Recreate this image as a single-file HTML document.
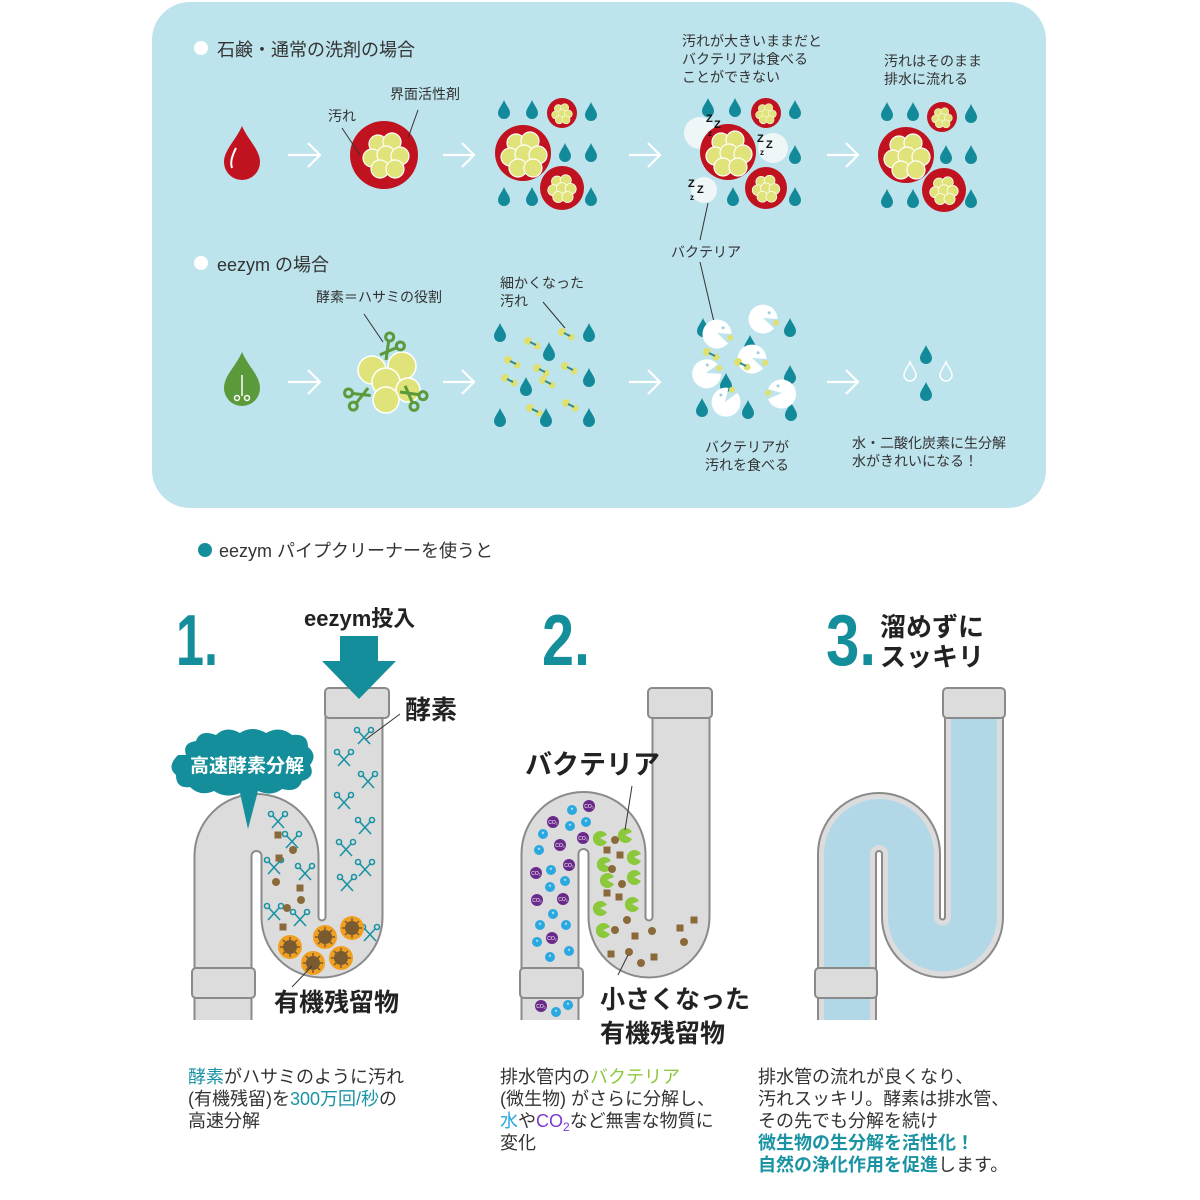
<!DOCTYPE html>
<html><head><meta charset="utf-8">
<style>
html,body{margin:0;padding:0;background:#fff;}
svg{display:block;}
text{font-family:"Liberation Sans","Noto Sans CJK JP",sans-serif;}
.s{font-size:14px;fill:#333;}
.h{font-size:18px;fill:#333;}
.b{font-weight:bold;fill:#222;}
.num{font-family:"Liberation Sans Narrow","Liberation Sans",sans-serif;font-weight:bold;fill:#148e9b;}
.body{font-size:18px;fill:#333;}
.tl{fill:#1a93a3;}
</style></head><body>
<svg width="1200" height="1200" viewBox="0 0 1200 1200" xmlns="http://www.w3.org/2000/svg">
<defs>
  <path id="drop" d="M0,-10 C2,-5 6,-1 6,3 A6,6 0 0 1 -6,3 C-6,-1 -2,-5 0,-10Z" fill="#138a99"/>
  <path id="wdrop" d="M0,-10 C2,-5 6,-1 6,3 A6,6 0 0 1 -6,3 C-6,-1 -2,-5 0,-10Z" fill="none" stroke="#fff" stroke-width="1.5"/>
  <g id="clu">
    <circle cx="-8" cy="-12" r="9" fill="#dfe37a" stroke="#fff" stroke-width="1.2"/>
    <circle cx="6" cy="-14" r="9" fill="#dfe37a" stroke="#fff" stroke-width="1.2"/>
    <circle cx="-14" cy="2" r="9" fill="#dfe37a" stroke="#fff" stroke-width="1.2"/>
    <circle cx="0" cy="-1" r="9" fill="#dfe37a" stroke="#fff" stroke-width="1.2"/>
    <circle cx="14" cy="0" r="9" fill="#dfe37a" stroke="#fff" stroke-width="1.2"/>
    <circle cx="-6" cy="13" r="9" fill="#dfe37a" stroke="#fff" stroke-width="1.2"/>
    <circle cx="9" cy="13" r="9" fill="#dfe37a" stroke="#fff" stroke-width="1.2"/>
  </g>
  <g id="pac">
    <path d="M0,0 L14,-4 A14.5,14.5 0 1 0 14,6 Z" fill="#fff"/>
    <circle cx="4" cy="-7" r="1.5" fill="#9ccfdc"/>
    <circle cx="14" cy="0" r="3" fill="#e0e070"/>
  </g>
  <g id="frag">
    <circle cx="0" cy="0" r="4" fill="#e0e070"/><circle cx="9" cy="5" r="3.5" fill="#e0e070"/>
    <line x1="2" y1="1" x2="8" y2="4" stroke="#2a8a9a" stroke-width="2"/>
  </g>
  <g id="sc" stroke="#1a93a3" stroke-width="1.6" fill="none">
    <line x1="-6" y1="6" x2="5" y2="-6"/><line x1="6" y1="6" x2="-5" y2="-6"/>
    <circle cx="-7" cy="-8" r="2.5"/><circle cx="7" cy="-8" r="2.5"/>
  </g>
  <g id="gsc" stroke="#5a9a3a" stroke-width="3" fill="none">
    <line x1="0" y1="0" x2="16" y2="-10"/><line x1="0" y1="-8" x2="16" y2="0"/>
    <circle cx="20" cy="-12" r="4"/><circle cx="20" cy="2" r="4"/>
  </g>
  <g id="co2"><circle r="6" fill="#6a2a8a"/><text x="0" y="2" font-size="5" fill="#fff" text-anchor="middle">CO₂</text></g>
  <g id="wat"><circle r="5" fill="#2aa8e0"/><text x="0" y="2.5" font-size="7" fill="#fff" text-anchor="middle">*</text></g>
  <g id="gb"><path d="M0,0 L7,-3 A7.5,7.5 0 1 0 7,4 Z" fill="#8cc83c"/></g>
  <rect id="bs" x="-3.5" y="-3.5" width="7" height="7" fill="#8a6a3a"/>
  <circle id="bc" r="4" fill="#8a6a3a"/>
  <g id="org"><circle r="12" fill="#f0a020"/><circle r="7" fill="#7a5a30"/>
    <g stroke="#7a5a30" stroke-width="1.5"><line x1="-10" y1="0" x2="10" y2="0"/><line x1="0" y1="-10" x2="0" y2="10"/><line x1="-7" y1="-7" x2="7" y2="7"/><line x1="-7" y1="7" x2="7" y2="-7"/></g></g>
  <linearGradient id="bl" x1="0" y1="0" x2="0" y2="1"><stop offset="0" stop-color="#a8cbe8" stop-opacity="0"/><stop offset="1" stop-color="#6fa5de"/></linearGradient>
</defs>

<rect x="152" y="2" width="894" height="506" rx="38" fill="#bde3ec"/>

<circle cx="201" cy="48" r="7" fill="#fff"/>
<text x="217" y="56" class="h">石鹸・通常の洗剤の場合</text>
<path d="M242,126 C248,140 260,150 260,162 A18,18 0 0 1 224,162 C224,150 236,140 242,126Z" fill="#c1121f"/>
<path d="M236,148 C232,156 230,162 232,168" stroke="#fff" stroke-width="2" fill="none"/>
<g stroke="#fff" stroke-width="2.2" fill="none">
 <path d="M288,155 H320 M308,143 L320,155 L308,167"/>
 <path d="M443,155 H474 M462,143 L474,155 L462,167"/>
 <path d="M629,155 H660 M648,143 L660,155 L648,167"/>
 <path d="M827,155 H858 M846,143 L858,155 L846,167"/>
 <path d="M288,382 H320 M308,370 L320,382 L308,394"/>
 <path d="M443,382 H474 M462,370 L474,382 L462,394"/>
 <path d="M629,382 H660 M648,370 L660,382 L648,394"/>
 <path d="M827,382 H858 M846,370 L858,382 L846,394"/>
</g>
<circle cx="384" cy="155" r="34" fill="#c1121f"/><use href="#clu" x="386" y="156"/>
<text x="390" y="99" class="s">界面活性剤</text>
<text x="328" y="121" class="s">汚れ</text>
<line x1="342" y1="128" x2="360" y2="155" stroke="#333"/>
<line x1="418" y1="110" x2="408" y2="138" stroke="#333"/>

<g>
<circle cx="523" cy="153" r="28" fill="#c1121f"/><use href="#clu" x="524" y="155"/>
<circle cx="562" cy="113" r="15" fill="#c1121f"/><use href="#clu" transform="translate(562,114) scale(0.45)"/>
<circle cx="562" cy="188" r="22" fill="#c1121f"/><use href="#clu" transform="translate(562,189) scale(0.62)"/>
<use href="#drop" x="504" y="110"/><use href="#drop" x="532" y="110"/><use href="#drop" x="591" y="112"/>
<use href="#drop" x="565" y="153"/><use href="#drop" x="591" y="153"/>
<use href="#drop" x="504" y="197"/><use href="#drop" x="532" y="197"/><use href="#drop" x="591" y="197"/>
</g>
<g>
<text x="682" y="46" class="s">汚れが大きいままだと</text>
<text x="682" y="64" class="s">バクテリアは食べる</text>
<text x="682" y="82" class="s">ことができない</text>
<use href="#drop" x="708" y="108"/><use href="#drop" x="735" y="108"/><use href="#drop" x="795" y="110"/>
<use href="#drop" x="795" y="155"/><use href="#drop" x="733" y="197"/><use href="#drop" x="795" y="197"/>
<circle cx="700" cy="133" r="16" fill="#eef6f8"/>
<circle cx="773" cy="148" r="15" fill="#eef6f8"/>
<circle cx="704" cy="190" r="13" fill="#eef6f8"/>
<circle cx="728" cy="152" r="28" fill="#c1121f"/><use href="#clu" x="729" y="154"/>
<circle cx="766" cy="113" r="15" fill="#c1121f"/><use href="#clu" transform="translate(766,114) scale(0.45)"/>
<circle cx="766" cy="188" r="21" fill="#c1121f"/><use href="#clu" transform="translate(766,189) scale(0.6)"/>
<g font-weight="bold" fill="#111" font-size="11">
<text x="706" y="122">Z</text><text x="714" y="128">Z</text><text x="708" y="136" font-size="8">z</text>
<text x="757" y="142">Z</text><text x="766" y="148">Z</text><text x="760" y="155" font-size="8">z</text>
<text x="688" y="187">Z</text><text x="697" y="193">Z</text><text x="690" y="200" font-size="8">z</text>
</g>
<line x1="708" y1="203" x2="700" y2="240" stroke="#333"/>
<text x="671" y="257" class="s">バクテリア</text>
<line x1="700" y1="262" x2="714" y2="322" stroke="#333"/>
</g>
<g>
<text x="884" y="66" class="s">汚れはそのまま</text>
<text x="884" y="84" class="s">排水に流れる</text>
<circle cx="906" cy="155" r="28" fill="#c1121f"/><use href="#clu" x="907" y="157"/>
<circle cx="942" cy="117" r="15" fill="#c1121f"/><use href="#clu" transform="translate(942,118) scale(0.45)"/>
<circle cx="944" cy="190" r="22" fill="#c1121f"/><use href="#clu" transform="translate(944,191) scale(0.62)"/>
<use href="#drop" x="887" y="112"/><use href="#drop" x="913" y="112"/><use href="#drop" x="971" y="114"/>
<use href="#drop" x="946" y="155"/><use href="#drop" x="971" y="155"/>
<use href="#drop" x="887" y="199"/><use href="#drop" x="913" y="199"/><use href="#drop" x="971" y="199"/>
</g>

<circle cx="201" cy="263" r="7" fill="#fff"/>
<text x="217" y="271" class="h">eezym の場合</text>
<path d="M242,352 C248,366 260,376 260,388 A18,18 0 0 1 224,388 C224,376 236,366 242,352Z" fill="#5a9a3a"/>
<g stroke="#fff" stroke-width="1.5" fill="none"><line x1="242" y1="375" x2="242" y2="396"/><circle cx="237" cy="398" r="2.5"/><circle cx="247" cy="398" r="2.5"/></g>
<text x="316" y="302" class="s">酵素＝ハサミの役割</text>
<line x1="364" y1="314" x2="383" y2="342" stroke="#333"/>
<g>
<circle cx="372" cy="370" r="14" fill="#dfe37a" stroke="#fff" stroke-width="1.5"/>
<circle cx="402" cy="366" r="14" fill="#dfe37a" stroke="#fff" stroke-width="1.5"/>
<circle cx="386" cy="382" r="14" fill="#dfe37a" stroke="#fff" stroke-width="1.5"/>
<circle cx="408" cy="390" r="12" fill="#dfe37a" stroke="#fff" stroke-width="1.5"/>
<circle cx="386" cy="400" r="13" fill="#dfe37a" stroke="#fff" stroke-width="1.5"/>
<use href="#gsc" transform="translate(386,360) rotate(-50)"/>
<use href="#gsc" transform="translate(368,388) rotate(160)"/>
<use href="#gsc" transform="translate(400,392) rotate(40)"/>
</g>
<text x="500" y="288" class="s">細かくなった</text>
<text x="500" y="306" class="s">汚れ</text>
<line x1="543" y1="302" x2="565" y2="328" stroke="#333"/>
<g>
<use href="#drop" x="500" y="333"/><use href="#drop" x="589" y="333"/><use href="#drop" x="549" y="352"/>
<use href="#drop" x="589" y="378"/><use href="#drop" x="526" y="387"/>
<use href="#drop" x="500" y="418"/><use href="#drop" x="546" y="418"/><use href="#drop" x="589" y="418"/>
<use href="#frag" x="528" y="341"/><use href="#frag" x="562" y="332"/>
<use href="#frag" x="508" y="360"/><use href="#frag" x="537" y="368"/><use href="#frag" x="565" y="366"/>
<use href="#frag" x="505" y="378"/><use href="#frag" x="543" y="380"/>
<use href="#frag" x="530" y="408"/><use href="#frag" x="566" y="403"/>
</g>
<g>
<use href="#drop" x="703" y="328"/><use href="#drop" x="790" y="328"/><use href="#drop" x="750" y="345"/>
<use href="#drop" x="790" y="375"/><use href="#drop" x="726" y="383"/>
<use href="#drop" x="702" y="408"/><use href="#drop" x="748" y="410"/><use href="#drop" x="791" y="412"/>
<use href="#pac" x="717" y="333" transform="rotate(20 717 333)"/>
<use href="#pac" x="763" y="318" transform="rotate(20 763 318)"/>
<use href="#pac" x="752" y="358" transform="rotate(20 752 358)"/>
<use href="#pac" x="706" y="373" transform="rotate(-20 706 373)"/>
<use href="#pac" x="725" y="402" transform="rotate(-60 725 402)"/>
<use href="#pac" transform="translate(782,393) scale(-1,1)"/>
<use href="#frag" x="738" y="362"/><use href="#frag" x="707" y="352"/>
</g>
<text x="705" y="452" class="s">バクテリアが</text>
<text x="705" y="470" class="s">汚れを食べる</text>
<use href="#drop" x="926" y="355"/><use href="#drop" x="926" y="392"/>
<use href="#wdrop" x="910" y="372"/><use href="#wdrop" x="946" y="372"/>
<text x="852" y="448" class="s">水・二酸化炭素に生分解</text>
<text x="852" y="466" class="s">水がきれいになる！</text>

<circle cx="205" cy="550" r="7" fill="#148e9b"/>
<text x="219" y="557" class="h">eezym パイプクリーナーを使うと</text>

<text x="176" y="665" class="num" font-size="72" textLength="42" lengthAdjust="spacingAndGlyphs">1.</text>
<text x="542" y="665" class="num" font-size="72" textLength="48" lengthAdjust="spacingAndGlyphs">2.</text>
<text x="826" y="665" class="num" font-size="72" textLength="50" lengthAdjust="spacingAndGlyphs">3.</text>
<text x="880" y="636" class="b" font-size="26">溜めずに</text>
<text x="880" y="666" class="b" font-size="26">スッキリ</text>

<g fill="none">
 <path d="M223,1020 V856 A33.5,33.5 0 0 1 290,856 V917 A32,32 0 0 0 354,917 V700" stroke="#8a8a8a" stroke-width="59"/>
 <path d="M223,1020 V856 A33.5,33.5 0 0 1 290,856 V917 A32,32 0 0 0 354,917 V700" stroke="#dcdcdc" stroke-width="55"/>
</g>
<rect x="325" y="688" width="64" height="30" rx="4" fill="#dcdcdc" stroke="#8a8a8a" stroke-width="2"/>
<rect x="192" y="968" width="63" height="30" rx="4" fill="#dcdcdc" stroke="#8a8a8a" stroke-width="2"/>
<rect x="340" y="636" width="38" height="26" fill="#148e9b"/>
<path d="M322,661 H396 L359,699 Z" fill="#148e9b"/>
<text x="304" y="626" class="b" font-size="22">eezym投入</text>
<text x="405" y="719" class="b" font-size="26">酵素</text>
<line x1="400" y1="714" x2="365" y2="740" stroke="#333"/>
<g>
<use href="#sc" x="364" y="738"/><use href="#sc" x="344" y="760"/><use href="#sc" x="368" y="782"/>
<use href="#sc" x="344" y="803"/><use href="#sc" x="365" y="828"/><use href="#sc" x="346" y="850"/>
<use href="#sc" x="365" y="870"/><use href="#sc" x="347" y="885"/>
<use href="#sc" x="278" y="822"/><use href="#sc" x="292" y="842"/><use href="#sc" x="274" y="868"/>
<use href="#sc" x="305" y="874"/><use href="#sc" x="274" y="914"/><use href="#sc" x="300" y="920"/>
<use href="#sc" x="370" y="935"/>
<use href="#bs" x="278" y="835"/><use href="#bc" x="293" y="850"/><use href="#bs" x="279" y="858"/>
<use href="#bc" x="276" y="882"/><use href="#bs" x="300" y="888"/><use href="#bc" x="301" y="900"/>
<use href="#bc" x="287" y="908"/><use href="#bs" x="283" y="927"/>
<use href="#org" x="290" y="947"/><use href="#org" x="325" y="937"/><use href="#org" x="313" y="963"/>
<use href="#org" x="341" y="958"/><use href="#org" x="352" y="928"/>
</g>
<path d="M186,755 q-4,-12 10,-14 q4,-12 20,-6 q10,-10 24,-2 q12,-8 26,0 q14,-8 26,2 q16,-2 16,12 q10,8 2,18 q6,12 -8,16 q-4,12 -20,8 q-10,8 -24,2 l-10,38 l-8,-36 q-14,6 -26,-2 q-14,6 -24,-4 q-14,2 -14,-12 q-10,-8 2,-20 z" fill="#148e9b"/>
<text x="190" y="772" font-size="19" font-weight="bold" fill="#fff">高速酵素分解</text>
<text x="274" y="1011" class="b" font-size="25">有機残留物</text>
<line x1="292" y1="987" x2="312" y2="966" stroke="#333"/>

<g fill="none">
 <path d="M550,1020 V854 A33.5,33.5 0 0 1 617,854 V917 A32,32 0 0 0 681,917 V700" stroke="#8a8a8a" stroke-width="59"/>
 <path d="M550,1020 V854 A33.5,33.5 0 0 1 617,854 V917 A32,32 0 0 0 681,917 V700" stroke="#dcdcdc" stroke-width="55"/>
 <line x1="550" y1="860" x2="550" y2="1018" stroke="url(#bl)" stroke-width="42"/>
</g>
<rect x="648" y="688" width="64" height="30" rx="4" fill="#dcdcdc" stroke="#8a8a8a" stroke-width="2"/>
<rect x="520" y="968" width="63" height="30" rx="4" fill="#dcdcdc" stroke="#8a8a8a" stroke-width="2"/>
<g>
<use href="#co2" x="589" y="806"/><use href="#wat" x="572" y="810"/><use href="#co2" x="553" y="822"/>
<use href="#wat" x="570" y="826"/><use href="#wat" x="586" y="822"/><use href="#wat" x="543" y="834"/>
<use href="#co2" x="583" y="838"/><use href="#co2" x="560" y="845"/><use href="#wat" x="539" y="850"/>
<use href="#co2" x="569" y="865"/><use href="#co2" x="536" y="873"/><use href="#wat" x="551" y="870"/>
<use href="#wat" x="565" y="881"/><use href="#wat" x="550" y="887"/><use href="#co2" x="537" y="900"/>
<use href="#co2" x="563" y="899"/><use href="#wat" x="553" y="914"/><use href="#wat" x="540" y="925"/>
<use href="#wat" x="566" y="925"/><use href="#co2" x="552" y="938"/><use href="#wat" x="537" y="942"/>
<use href="#wat" x="569" y="951"/><use href="#wat" x="550" y="957"/>
<use href="#co2" x="541" y="1006"/><use href="#wat" x="556" y="1012"/><use href="#wat" x="568" y="1005"/>
<use href="#gb" x="600" y="838"/><use href="#gb" x="625" y="835"/><use href="#gb" x="604" y="864"/>
<use href="#gb" x="634" y="857"/><use href="#gb" x="607" y="880"/><use href="#gb" x="634" y="877"/>
<use href="#gb" x="600" y="908"/><use href="#gb" x="632" y="904"/><use href="#gb" x="603" y="930"/>
<use href="#bc" x="615" y="840"/><use href="#bs" x="607" y="850"/><use href="#bs" x="620" y="855"/>
<use href="#bc" x="612" y="869"/><use href="#bc" x="622" y="884"/><use href="#bs" x="607" y="893"/>
<use href="#bs" x="619" y="897"/><use href="#bc" x="627" y="920"/><use href="#bc" x="615" y="930"/>
<use href="#bs" x="635" y="936"/><use href="#bc" x="652" y="931"/><use href="#bs" x="680" y="928"/>
<use href="#bs" x="694" y="920"/><use href="#bc" x="684" y="942"/><use href="#bs" x="611" y="954"/>
<use href="#bc" x="629" y="952"/><use href="#bc" x="641" y="963"/><use href="#bs" x="654" y="957"/>
</g>
<text x="525" y="774" class="b" font-size="27">バクテリア</text>
<line x1="632" y1="786" x2="625" y2="830" stroke="#333"/>
<text x="600" y="1008" class="b" font-size="25">小さくなった</text>
<text x="600" y="1042" class="b" font-size="25">有機残留物</text>
<line x1="618" y1="975" x2="628" y2="955" stroke="#333"/>

<g fill="none">
 <path d="M847,1020 V854 A32,32 0 0 1 911,854 V917 A31.5,31.5 0 0 0 974,917 V700" stroke="#8a8a8a" stroke-width="60"/>
 <path d="M847,1020 V854 A32,32 0 0 1 911,854 V917 A31.5,31.5 0 0 0 974,917 V700" stroke="#dcdcdc" stroke-width="56"/>
 <path d="M847,1020 V854 A32,32 0 0 1 911,854 V917 A31.5,31.5 0 0 0 974,917 V700" stroke="#b2d8e8" stroke-width="46"/>
</g>
<rect x="943" y="688" width="62" height="30" rx="4" fill="#dcdcdc" stroke="#8a8a8a" stroke-width="2"/>
<rect x="815" y="968" width="62" height="30" rx="4" fill="#dcdcdc" stroke="#8a8a8a" stroke-width="2"/>

<g class="body">
<text x="188" y="1083"><tspan class="tl">酵素</tspan>がハサミのように汚れ</text>
<text x="188" y="1105">(有機残留)を<tspan class="tl">300万回/秒</tspan>の</text>
<text x="188" y="1127">高速分解</text>
<text x="500" y="1083">排水管内の<tspan fill="#8cc83c">バクテリア</tspan></text>
<text x="500" y="1105">(微生物) がさらに分解し、</text>
<text x="500" y="1127"><tspan fill="#2aa8e0">水</tspan>や<tspan fill="#7a3ad0">CO<tspan font-size="12" dy="4">2</tspan></tspan><tspan dy="-4">など無害な物質に</tspan></text>
<text x="500" y="1149">変化</text>
<text x="758" y="1083">排水管の流れが良くなり、</text>
<text x="758" y="1105">汚れスッキリ。酵素は排水管、</text>
<text x="758" y="1127">その先でも分解を続け</text>
<text x="758" y="1149" class="tl" font-weight="bold">微生物の生分解を活性化！</text>
<text x="758" y="1171"><tspan class="tl" font-weight="bold">自然の浄化作用を促進</tspan>します。</text>
</g>
</svg>
</body></html>
